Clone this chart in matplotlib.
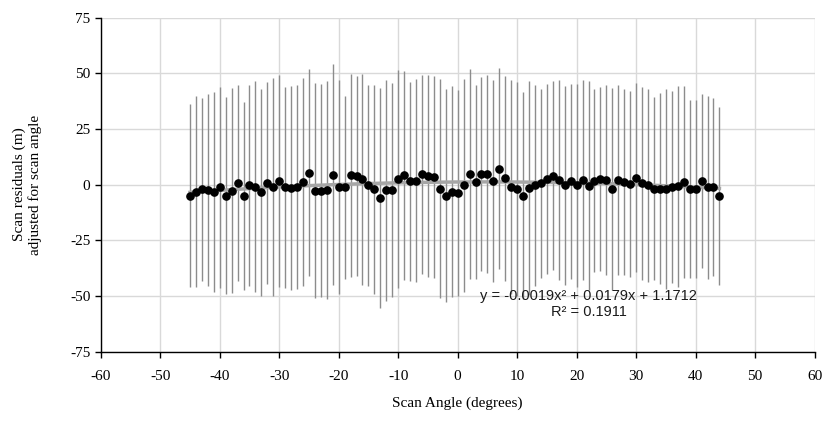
# Scan residuals vs scan angle, with +/- error bars and a quadratic trendline.

import matplotlib
matplotlib.use("Agg")
import matplotlib.pyplot as plt
import numpy as np

# Scan angles (degrees)
ANGLES = [
    -45, -44, -43, -42, -41, -40, -39, -38, -37, -36,
    -35, -34, -33, -32, -31, -30, -29, -28, -27, -26,
    -25, -24, -23, -22, -21, -20, -19, -18, -17, -16,
    -15, -14, -13, -12, -11, -10, -9, -8, -7, -6,
    -5, -4, -3, -2, -1, 0, 1, 2, 3, 4,
    5, 6, 7, 8, 9, 10, 11, 12, 13, 14,
    15, 16, 17, 18, 19, 20, 21, 22, 23, 24,
    25, 26, 27, 28, 29, 30, 31, 32, 33, 34,
    35, 36, 37, 38, 39, 40, 41, 42, 43, 44,
]

# Mean residual at each angle (m)
RESIDUALS = [
    -4.9, -3.1, -2.1, -2.4, -3.4, -1.2, -4.9, -2.7, 0.9, -5.1,
    -0.3, -0.9, -3.4, 0.6, -1.2, 1.7, -1.2, -1.6, -1.2, 1.2,
    5.4, -2.7, -2.7, -2.4, 4.5, -1.2, -1.2, 4.2, 3.8, 2.4,
    -0.4, -2.1, -6.0, -2.5, -2.4, 2.7, 4.2, 1.4, 1.7, 4.6,
    3.8, 3.3, -1.9, -4.9, -3.1, -3.7, -0.3, 4.8, 1.2, 4.9,
    4.9, 1.8, 7.2, 2.9, -0.9, -2.1, -4.9, -1.6, -0.3, 0.6,
    2.6, 3.9, 2.2, -0.4, 1.5, -0.4, 2.2, -0.6, 1.8, 2.7,
    2.0, -2.1, 2.0, 1.1, 0.2, 3.1, 0.5, -0.4, -1.8, -1.8,
    -2.0, -1.0, -0.8, 1.2, -2.0, -2.0, 1.5, -1.2, -1.0, -5.0,
]

# Error bar half-lengths (m)
ERRORS = [
    41.0, 43.0, 41.0, 43.0, 45.0, 45.0, 44.0, 46.0, 44.0, 42.0,
    45.0, 47.5, 46.5, 45.3, 49.0, 47.5, 45.0, 45.7, 45.8, 46.5,
    46.3, 48.3, 47.9, 49.0, 49.5, 48.0, 41.0, 45.5, 44.8, 47.4,
    45.0, 47.0, 49.2, 49.6, 47.9, 48.9, 47.0, 44.5, 45.6, 44.7,
    45.5, 45.3, 49.1, 47.6, 47.2, 46.3, 47.7, 47.3, 43.7, 43.5,
    44.4, 45.3, 45.0, 46.0, 48.0, 48.0, 46.4, 47.9, 45.1, 42.4,
    42.6, 42.4, 44.8, 44.7, 43.7, 45.6, 44.8, 46.9, 41.0, 41.3,
    42.8, 45.4, 42.8, 41.7, 41.6, 42.4, 43.5, 43.2, 41.1, 43.0,
    45.0, 43.0, 45.0, 43.0, 40.0, 40.0, 39.0, 41.0, 40.0, 40.0,
]

# Trendline coefficients and the label text shown on the chart
TREND_COEF = [-0.0019, 0.0179, 1.1712]
TREND_EQ = "y = -0.0019x\u00b2 + 0.0179x + 1.1712"
TREND_R2 = "R\u00b2 = 0.1911"

X_TICKS = [-60, -50, -40, -30, -20, -10, 0, 10, 20, 30, 40, 50, 60]
Y_TICKS = [-75, -50, -25, 0, 25, 50, 75]

SERIF = "Liberation Serif"
plt.rcParams["axes.unicode_minus"] = False


def main():
    fig = plt.figure(figsize=(8.27, 4.23), dpi=100)
    ax = fig.add_axes([0.1218, 0.1686, 0.8632, 0.79])

    x = np.array(ANGLES)
    y = np.array(RESIDUALS)

    ax.errorbar(x, y, yerr=ERRORS, fmt="none", ecolor="#8c8c8c",
                elinewidth=1.0, capsize=0, zorder=2)

    xt = np.linspace(min(ANGLES), max(ANGLES), 200)
    ax.plot(xt, np.polyval(TREND_COEF, xt), color="#a6a6a6", lw=2.5, zorder=3)

    ax.plot(x, y, "o", color="black", markersize=5.2, zorder=4)

    # trendline label (Excel style, sans serif)
    ax.text(22.0, -50.0, TREND_EQ, ha="center", va="center",
            fontsize=10.5, family="Liberation Sans", color="#1a1a1a", zorder=5)
    ax.text(22.0, -57.0, TREND_R2, ha="center", va="center",
            fontsize=10.5, family="Liberation Sans", color="#1a1a1a", zorder=5)

    ax.set_xlim(-60, 60)
    ax.set_ylim(-75, 75)
    ax.set_xticks(X_TICKS)
    ax.set_yticks(Y_TICKS)
    ax.grid(True, color="#d9d9d9", lw=1.0, zorder=0)
    ax.set_axisbelow(True)

    for side in ["top", "right"]:
        ax.spines[side].set_visible(False)
    for side in ["left", "bottom"]:
        ax.spines[side].set_color("black")
        ax.spines[side].set_linewidth(1.0)

    ax.tick_params(direction="out", length=4, width=1, colors="black",
                   labelsize=11)
    ax.tick_params(axis="x", pad=9)
    for lab in ax.get_xticklabels() + ax.get_yticklabels():
        lab.set_family(SERIF)

    ax.set_xlabel("Scan Angle (degrees)", family=SERIF, fontsize=11,
                  labelpad=10)
    ax.set_ylabel("Scan residuals (m)\nadjusted for scan angle",
                  family=SERIF, fontsize=11, labelpad=20)

    fig.savefig("out.png", dpi=100)
    plt.close(fig)


if __name__ == "__main__":
    main()
